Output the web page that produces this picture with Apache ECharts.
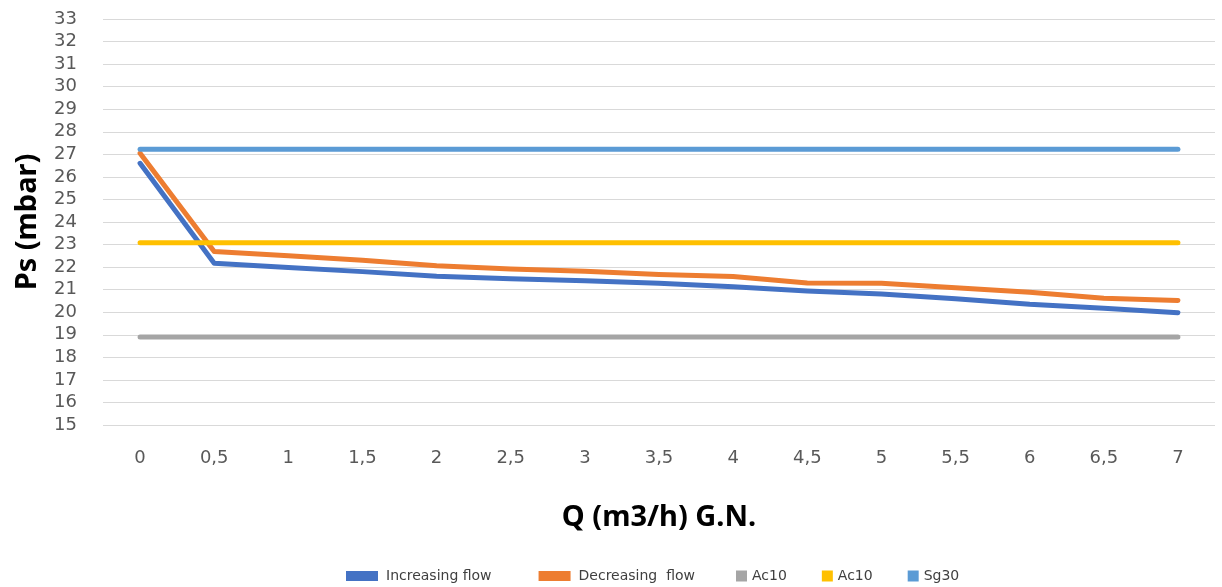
<!DOCTYPE html>
<html><head><meta charset="utf-8">
<script src="https://cdn.jsdelivr.net/npm/echarts@6/dist/echarts.min.js"></script>
<style>html,body{margin:0;padding:0;background:#fff}#c{width:1222px;height:587px}</style>
</head><body><div id="c"></div>
<script>
const categories = ['0','0,5','1','1,5','2','2,5','3','3,5','4','4,5','5','5,5','6','6,5','7'];
const increasingFlow = [26.6,22.17,21.98,21.8,21.6,21.48,21.39,21.28,21.13,20.94,20.81,20.6,20.35,20.18,19.98];
const decreasingFlow = [27.05,22.69,22.5,22.3,22.06,21.92,21.82,21.67,21.58,21.3,21.28,21.08,20.89,20.62,20.52];
const ac10Gray = [18.9,18.9,18.9,18.9,18.9,18.9,18.9,18.9,18.9,18.9,18.9,18.9,18.9,18.9,18.9];
const ac10Yellow = [23.08,23.08,23.08,23.08,23.08,23.08,23.08,23.08,23.08,23.08,23.08,23.08,23.08,23.08,23.08];
const sg30 = [27.22,27.22,27.22,27.22,27.22,27.22,27.22,27.22,27.22,27.22,27.22,27.22,27.22,27.22,27.22];
const seriesNames = ['Increasing flow','Decreasing  flow','Ac10','Ac10 ','Sg30'];
const legendLabels = {'Ac10 ':'Ac10'};

const chart = echarts.init(document.getElementById('c'));
const mk = (name, data, color) => ({
  name, type:'line', data, showSymbol:false, symbol:'none',
  lineStyle:{color, width:5, cap:'round', join:'round'},
  itemStyle:{color}, animation:false
});
const labelFont = 'DejaVu Sans';
chart.setOption({
  animation:false,
  grid:{left:103,right:7,top:19,bottom:162},
  legend:[{
    data:[seriesNames[0],seriesNames[1]], left:346, top:569, padding:0, icon:'rect',
    itemWidth:32, itemHeight:10, itemGap:47,
    textStyle:{fontFamily:labelFont,fontSize:14,color:'#404040',padding:[0,0,0,3]}
  },{
    data:[seriesNames[2],seriesNames[3],seriesNames[4]], left:736, top:569, padding:0, icon:'rect',
    itemWidth:11, itemHeight:11, itemGap:35,
    formatter:n=>legendLabels[n]||n,
    textStyle:{fontFamily:labelFont,fontSize:14,color:'#404040',padding:[0,0,0,0]}
  }],
  xAxis:{
    type:'category', data:categories, boundaryGap:true,
    name:'Q (m3/h) G.N.', nameLocation:'middle', nameGap:78,
    nameTextStyle:{fontFamily:'Noto Sans',fontWeight:'bold',fontSize:29,color:'#000'},
    axisLine:{show:false}, axisTick:{show:false},
    axisLabel:{fontFamily:labelFont,fontSize:18,color:'#595959',margin:24}
  },
  yAxis:{
    type:'value', min:15, max:33, interval:1,
    name:'Ps (mbar)', nameLocation:'middle', nameGap:61,
    nameTextStyle:{fontFamily:'Noto Sans',fontWeight:'bold',fontSize:29,color:'#000'},
    axisLine:{show:false}, axisTick:{show:false},
    axisLabel:{fontFamily:labelFont,fontSize:18,color:'#595959',margin:26,lineHeight:18},
    splitLine:{lineStyle:{color:'#D9D9D9',width:1}}
  },
  series:[
    mk(seriesNames[0], increasingFlow, '#4472C4'),
    mk(seriesNames[1], decreasingFlow, '#ED7D31'),
    mk(seriesNames[2], ac10Gray, '#A5A5A5'),
    mk(seriesNames[3], ac10Yellow, '#FFC000'),
    mk(seriesNames[4], sg30, '#5B9BD5')
  ]
});
</script></body></html>
